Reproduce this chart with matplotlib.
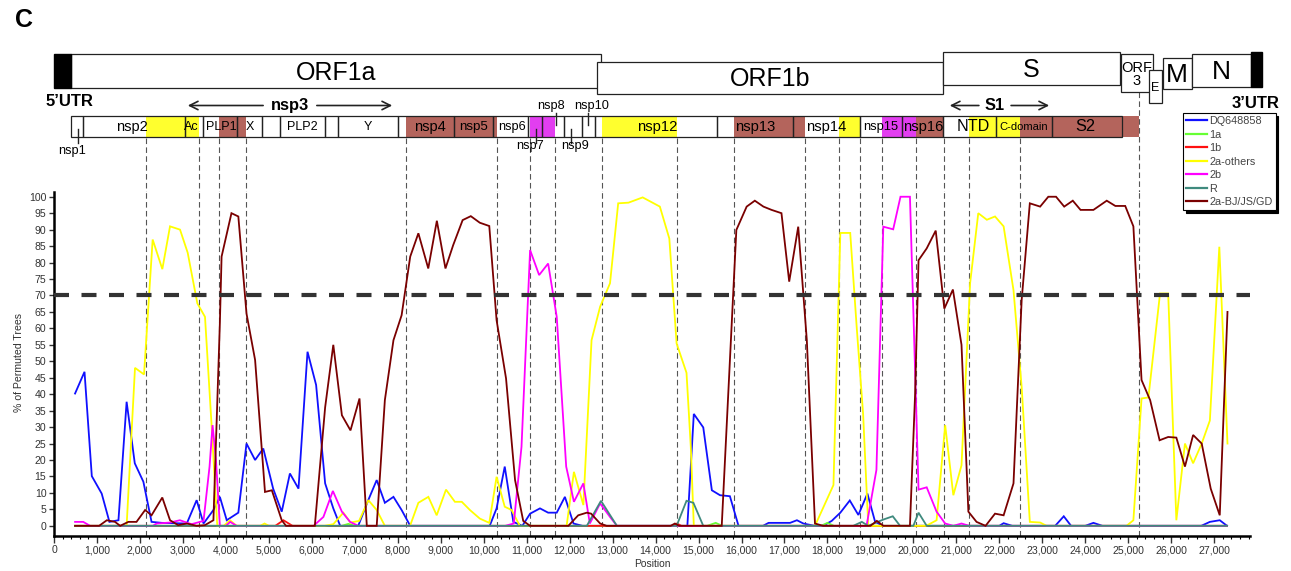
import matplotlib
matplotlib.use('Agg')
import matplotlib.pyplot as plt
from matplotlib.patches import Rectangle
from matplotlib.lines import Line2D
from matplotlib.ticker import MultipleLocator, FuncFormatter

plt.rcParams['font.family'] = ['Liberation Sans', 'DejaVu Sans']

# ---------------- data: bootscan curves (position in bp, % of permuted trees)
dq_pos = [490, 710, 880, 1110, 1290, 1500, 1690, 1880, 2080, 2270, 2510, 3090, 3320, 3480, 3710, 3860, 4020,
          4290, 4480, 4680, 4870, 5100, 5300, 5490, 5690, 5900, 6100, 6310, 6500, 6660, 7080, 7320, 7510,
          7700, 7900, 8090, 8290, 10140, 10300, 10490, 10690, 10900, 11080, 11310, 11500, 11700, 11890,
          12090, 12300, 14740, 14890, 15110, 15310, 15500, 15730, 15930, 16500, 16630, 17130, 17290, 17440,
          17700, 17900, 18100, 18300, 18520, 18720, 18930, 19110, 19300, 22000, 22100, 22300, 23300, 23500,
          23670, 24000, 24190, 24400, 26700, 26900, 27130, 27300]
dq_val = [40.2, 46.8, 15.1, 9.8, 1.2, 1.7, 37.7, 19, 13.4, 1.2, 0.9, 0.7, 7.8, 0.7, 4.8, 8.8, 1.7,
          4, 25, 20, 23.5, 11.3, 4.3, 15.9, 11.3, 52.9, 42.8, 12.9, 5.3, 0, 0, 8, 13.9,
          7, 8.8, 4.8, 0, 0, 5.3, 18, 1.2, 0, 3.7, 5.3, 4, 4, 8.8,
          0.7, 0, 0, 34, 29.9, 10.8, 9.3, 9, 0, 0, 0.9, 0.9, 1.7, 0.7,
          0, 0, 1.5, 4, 7.7, 3.3, 9.8, 1.2, 0, 0, 0.8, 0, 0, 2.9,
          0, 0, 0.9, 0, 0, 1.2, 1.7, 0]

g1a_pos = [490, 6700, 6850, 7000, 15200, 15400, 15550, 17850, 18000, 18150, 27300]
g1a_val = [0, 0, 0.6, 0, 0, 0.9, 0, 0, 0.9, 0, 0]

g1b_pos = [490, 5150, 5340, 5550, 14400, 14500, 14600, 27300]
g1b_val = [0, 0, 1.7, 0, 0, 0.7, 0, 0]

g2a_pos = [490, 1690, 1885, 2095, 2296, 2521, 2700, 2933, 3111, 3336, 3514, 3670, 3800, 3950, 4096, 4250,
           4800, 4900, 5000, 6300, 6500, 6734, 6900, 7100, 7316, 7510, 7700, 8286, 8480, 8712, 8906,
           9123, 9330, 9490, 9680, 9910, 10130, 10300, 10490, 10650, 10840, 11930, 12100, 12320, 12510,
           12710, 12940, 13130, 13370, 13700, 14100, 14320, 14490, 14720, 14820, 14890, 17710, 18140,
           18300, 18530, 18680, 18830, 18950, 20300, 20540, 20740, 20930, 21120, 21320, 21510, 21710,
           21900, 22100, 22330, 22520, 22710, 22950, 23100, 24960, 25120, 25310, 25470, 25740, 25930,
           26120, 26320, 26510, 26710, 26900, 27120, 27310]
g2a_val = [0, 0, 48, 46, 87, 78, 91, 90, 83, 67.6, 63.5, 30, 0, 0, 1.7, 0,
           0, 0.7, 0, 0, 0.5, 4, 1, 1.5, 7.8, 4.8, 0, 0, 7, 8.8, 3.2,
           11, 7.3, 7.3, 4.8, 2.2, 0.9, 14.9, 5.8, 4.8, 0, 0, 16.4, 6.3, 56.4,
           66.6, 73.7, 98, 98.2, 99.8, 97, 87.3, 55.4, 46.5, 24, 0, 0, 12.4,
           89, 89, 60.5, 34, 0, 0, 1.7, 30.6, 9.3, 18.4, 73.7, 95, 93,
           94, 91, 71.6, 42.2, 1.2, 1, 0, 0, 1.7, 38.7, 39, 70.6, 70.6,
           1.7, 25, 19, 25, 32, 84.8, 25]

g2b_pos = [490, 680, 840, 2300, 2390, 2700, 2930, 3200, 3480, 3620, 3690, 3770, 3860, 4000, 4100, 4250,
           6040, 6270, 6490, 6700, 6890, 7080, 10500, 10700, 10880, 11080, 11290, 11500, 11700, 11920,
           12100, 12320, 12470, 12710, 12940, 13100, 18910, 19140, 19300, 19530, 19700, 19920, 20010,
           20120, 20310, 20540, 20740, 20930, 21120, 21300, 27300]
g2b_val = [1.2, 1.2, 0, 0, 0.7, 1, 1.7, 0.5, 1.5, 18, 30.6, 20, 0, 0, 1.2, 0,
           0, 2.7, 10.6, 4.3, 1.2, 0, 0, 0.7, 24, 83.8, 76.2, 79.7, 63.5, 18,
           7.3, 12.9, 0.7, 6.8, 2.7, 0, 0, 17, 90.9, 90.1, 100, 100, 60.5,
           11, 11.7, 4.3, 0.7, 0, 0.7, 0, 0]

r_pos = [490, 12400, 12730, 13100, 14490, 14720, 14880, 15110, 18600, 18800, 18950, 19300, 19520, 19690,
         20000, 20120, 20310, 27300]
r_val = [0, 0, 7.6, 0, 0, 7.6, 7, 0, 0, 1.2, 0, 1.9, 2.9, 0,
         0, 4, 0, 0]

bj_pos = [490, 1050, 1230, 1420, 1540, 1730, 1920, 2120, 2270, 2520, 2700, 2890, 3090, 3320, 3510, 3710,
          3860, 3900, 4130, 4290, 4480, 4680, 4910, 5070, 5300, 5400, 6070, 6310, 6500, 6700, 6900, 7110,
          7280, 7510, 7700, 7900, 8090, 8290, 8480, 8710, 8910, 9110, 9290, 9510, 9700, 9910, 10130,
          10300, 10520, 10730, 10920, 11080, 11970, 12200, 12400, 12500, 12710, 12860, 14350, 14450,
          14550, 15540, 15880, 16120, 16310, 16510, 16700, 16930, 17110, 17320, 17520, 17710, 17900,
          19000, 19150, 19300, 19920, 20040, 20120, 20310, 20520, 20720, 20920, 21120, 21280, 21470,
          21680, 21900, 22100, 22330, 22520, 22710, 22950, 23140, 23320, 23510, 23710, 23890, 24190,
          24500, 24700, 24930, 25120, 25310, 25510, 25730, 25930, 26120, 26320, 26510, 26710, 26920,
          27130, 27310]
bj_val = [0, 0, 1.7, 1.2, 0, 1.2, 1.2, 4.8, 3.2, 8.6, 1.7, 0.2, 0.7, 0, 0.2, 1.7,
          61.5, 81.8, 95, 94, 64.5, 50.4, 10.3, 10.8, 1.7, 0, 0, 36, 55, 33.6, 29, 38.7,
          0, 0, 38.2, 56.4, 64, 81.8, 88.9, 78.2, 92.7, 78.2, 85.3, 92.9, 94.1, 92.1, 91.1,
          62.5, 44.8, 13.9, 1.5, 0, 0, 3.2, 4, 3.7, 0.7, 0, 0, 0.7,
          0, 0, 89.9, 97, 98.8, 97, 96, 95, 74.2, 90.9, 56.4, 0.7, 0,
          0, 1.5, 0, 0, 40, 80.7, 84.3, 89.7, 66, 71.8, 55, 4.3, 1.2,
          0, 3.7, 3.2, 12.9, 68.6, 98, 97, 100, 100, 97, 98.8, 96, 96,
          98.8, 97.2, 97.2, 91, 44.3, 38.2, 26, 27, 26.8, 18, 27.6, 25, 11.3,
          3.2, 65]

series_names = ['DQ648858', '1a', '1b', '2a-others', '2b', 'R', '2a-BJ/JS/GD']
series_pos = [dq_pos, g1a_pos, g1b_pos, g2a_pos, g2b_pos, r_pos, bj_pos]
series_val = [dq_val, g1a_val, g1b_val, g2a_val, g2b_val, r_val, bj_val]
series_colors = ['#1010ff', '#66ff33', '#ff1010', '#ffff00', '#ff00ff', '#3f8a7e', '#7a0000']

threshold = 70

# ---------------- data: genome map (bp)
genes = [('ORF1a', 396, 12720), ('ORF1b', 12640, 20700), ('S', 20680, 24810), ('ORF\n3', 24825, 25570),
         ('E', 25490, 25785), ('M', 25800, 26475), ('N', 26475, 27850)]
utr5 = (0, 396)
utr3 = (27850, 28105)

# borders of the small domain boxes
domain_edges = [396, 682, 3049, 3475, 4266, 4848, 5259, 6307, 6616, 8013, 9309, 10210, 11038, 11350,
                11869, 12281, 12590, 15422, 17191, 18757, 19728, 20696, 21922, 23233, 24848]
domain_labels = [('nsp2', 1808, 10.5), ('Ac', 3200, 9), ('PLP1', 3900, 9), ('X', 4550, 9),
                 ('PLP2', 5780, 9), ('Y', 7315, 9), ('nsp4', 8750, 10.5), ('nsp5', 9770, 9.6),
                 ('nsp6', 10660, 9.2), ('nsp12', 14030, 10.6), ('nsp13', 16310, 10.6),
                 ('nsp14', 17970, 10.6), ('nsp15', 19240, 9.3), ('nsp16', 20220, 10.6),
                 ('NTD', 21395, 11.6), ('C-domain', 22575, 8), ('S2', 23995, 11.8)]
# small nsp with a tick (label, tick pos, label pos, above?)
small_nsp = [('nsp1', 552, 412, False), ('nsp7', 11217, 11077, False), ('nsp8', 11683, 11566, True),
             ('nsp9', 12032, 12125, False), ('nsp10', 12420, 12513, True)]

# coloured blocks = region where one lineage has > 70 % support
block_edges = [(2140, 3370), (3850, 4470), (8200, 10300), (11070, 11670), (12750, 14500), (15830, 17480),
               (18270, 18750), (19280, 20070), (20070, 20720), (21300, 22490), (22490, 25250)]
block_colors = ['#ffff2e', '#b4645c', '#b4645c', '#e23ef0', '#ffff2e', '#b4645c',
                '#ffff2e', '#e23ef0', '#b4645c', '#ffff2e', '#b4645c']

W, H = 1291, 571
XMAX = 27834

fig = plt.figure(figsize=(W / 100, H / 100), dpi=100)

# ---------------- bootscan plot
ax = fig.add_axes([54 / W, 35.3 / H, 1196 / W, 343.9 / H])
for pos, val, c, name in zip(series_pos, series_val, series_colors, series_names):
    ax.plot(pos, val, color=c, lw=1.3, label=name, solid_joinstyle='miter')

ax.axhline(threshold, color='#333333', lw=3, dashes=(3.6, 3.0), zorder=5)

# dashed lines through the block borders
vlines = sorted(set([e for b in block_edges for e in b]))
for v in vlines:
    ax.axvline(v, color='#555555', lw=0.8, dashes=(5, 3), zorder=1)

ax.set_xlim(0, XMAX)
ax.set_ylim(-3.0, 101.5)
ax.xaxis.set_major_locator(MultipleLocator(1000))
ax.xaxis.set_minor_locator(MultipleLocator(200))
ax.xaxis.set_major_formatter(FuncFormatter(lambda v, p: f'{v:,.0f}'))
ax.yaxis.set_major_locator(MultipleLocator(5))
ax.tick_params(axis='both', labelsize=7.6, labelcolor='#333333', color='#333333')
ax.tick_params(axis='x', which='major', length=5, width=1, pad=2)
ax.tick_params(axis='x', which='minor', length=2.5, width=0.8)
ax.tick_params(axis='y', length=3.5, width=1, pad=2)
for s in ['top', 'right']:
    ax.spines[s].set_visible(False)
for s in ['left', 'bottom']:
    ax.spines[s].set_linewidth(1.8)
    ax.spines[s].set_color('black')

fig.text(19 / W, 1 - 362 / H, '% of Permuted Trees', rotation=90, ha='center', va='center',
         fontsize=7.6, color='#333333')
fig.text(652 / W, 1 - 564 / H, 'Position', ha='center', va='center', fontsize=7.4, color='#333333')

# legend with black shadow
handles = [Line2D([], [], color=c, lw=1.6) for c in series_colors]
leg = fig.legend(handles, series_names, loc='upper left', bbox_to_anchor=(1183 / W, 1 - 113 / H),
                 fontsize=7.8, frameon=True, fancybox=False, shadow={'color': 'black', 'alpha': 1},
                 borderpad=0.3, labelspacing=0.32, handlelength=1.9, handletextpad=0.2,
                 borderaxespad=0)
leg.get_frame().set_edgecolor('black')
leg.get_frame().set_linewidth(0.8)
for t in leg.get_texts():
    t.set_color('#444444')

# ---------------- genome map, y in pixels from top of figure
mp = fig.add_axes([54 / W, (H - 192) / H, 1196 / W, 192 / H])
mp.set_xlim(0, XMAX)
mp.set_ylim(192, 0)
mp.axis('off')

gene_y = {'ORF1a': (54.3, 87.7), 'ORF1b': (61.7, 94.3), 'S': (52.3, 85), 'ORF\n3': (54.3, 91.7),
          'E': (70, 103.3), 'M': (57.7, 89), 'N': (54.3, 86.7)}
gene_fs = {'ORF1a': 18, 'ORF1b': 18, 'S': 18, 'ORF\n3': 10.5, 'E': 9, 'M': 19, 'N': 19}
for name, a, b in genes:
    y0, y1 = gene_y[name]
    mp.add_patch(Rectangle((a, y0), b - a, y1 - y0, fc='white', ec='#222222', lw=0.9, clip_on=False))
    ls = 1.0 if name != 'ORF\n3' else 0.95
    mp.text((a + b) / 2, (y0 + y1) / 2 + 1.5, name, ha='center', va='center', fontsize=gene_fs[name],
            linespacing=ls, clip_on=False)
mp.add_patch(Rectangle((utr5[0], 54.3), utr5[1] - utr5[0], 33.4, fc='black', ec='black', clip_on=False))
mp.add_patch(Rectangle((utr3[0], 52.3), utr3[1] - utr3[0], 34.4, fc='black', ec='black', clip_on=False))
mp.text(352, 101.7, "5’UTR", ha='center', va='center', fontsize=12, fontweight='bold')
mp.text(27960, 103, "3’UTR", ha='center', va='center', fontsize=12, fontweight='bold', clip_on=False)

# coloured blocks and box outlines of the domain strip
sy0, sy1 = 116, 136.7
for (a, b), c in zip(block_edges, block_colors):
    mp.add_patch(Rectangle((a, sy0), b - a, sy1 - sy0, fc=c, ec='none', zorder=1))
for a, b in zip(domain_edges[:-1], domain_edges[1:]):
    mp.add_patch(Rectangle((a, sy0), b - a, sy1 - sy0, fc='none', ec='#222222', lw=0.9, zorder=2))
for lab, x, fs in domain_labels:
    mp.text(x, (sy0 + sy1) / 2 + 0.5, lab, ha='center', va='center', fontsize=fs, zorder=3)
for lab, tx, lx, above in small_nsp:
    if above:
        mp.plot([tx, tx], [113, 125], color='#222222', lw=1)
        mp.text(lx, 106, lab, ha='center', va='center', fontsize=9.2)
    else:
        mp.plot([tx, tx], [129, 143], color='#222222', lw=1)
        mp.text(lx, 146 if lab != 'nsp1' else 151, lab, ha='center', va='center', fontsize=9.2)

# nsp3 and S1 arrows
for lab, a, b, c, half in [('nsp3', 3049, 7936, 5492, 560), ('S1', 20782, 23225, 21899, 310)]:
    for end, start in [(a, c - half), (b, c + half)]:
        mp.annotate('', xy=(end, 105.5), xytext=(start, 105.5),
                    arrowprops=dict(arrowstyle='->,head_length=0.6,head_width=0.3', lw=1.2, color='#222222'))
    mp.text(c, 105.5, lab, ha='center', va='center', fontsize=11.8, fontweight='bold')

# dashed lines from the strip down to the plot
for v in vlines:
    top = 92 if v == vlines[-1] else 137.5
    mp.plot([v, v], [top, 192], color='#555555', lw=0.8, dashes=(5, 3), zorder=0)

fig.text(24 / W, 1 - 20 / H, 'C', ha='center', va='center', fontsize=18, fontweight='bold')

fig.savefig('out.png', dpi=100)
